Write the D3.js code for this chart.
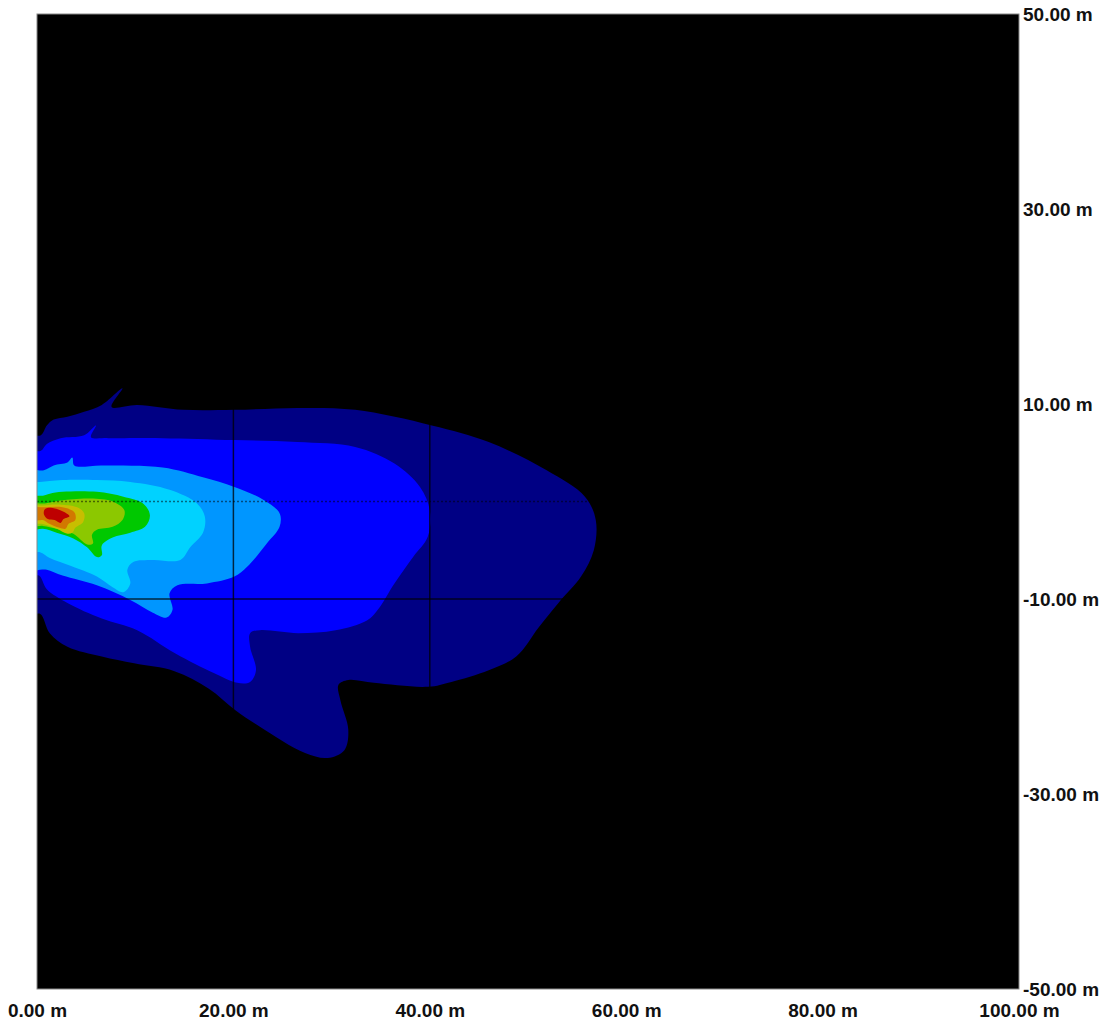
<!DOCTYPE html>
<html>
<head>
<meta charset="utf-8">
<script src="https://cdn.jsdelivr.net/npm/d3@7"></script>
<style>
  body { margin: 0; background: #fff; }
  svg text { font-family: "Liberation Sans", Arial, sans-serif; font-weight: bold; }
</style>
</head>
<body>
<span></span>
<script>
let width = 1101;
let height = 1025;
let margin = { top: 14, right: 82, bottom: 36, left: 37 };

// Tick values (metres)
let xTicks = [0, 20, 40, 60, 80, 100];
let yTicks = [50, 30, 10, -10, -30, -50];

// Isolux levels, outermost first: colour + outline [x m, y m]
let levelColors = ["#000084", "#0000ff", "#0096ff", "#00d2ff", "#00c800", "#8cc800", "#c8be00", "#d27800", "#be0000"];

let navy = [[-1, 6.6], [0.4, 6.8], [1.0, 7.8], [1.7, 8.4], [3.1, 8.7], [4.8, 9.2], [6.6, 9.9], [8.7, 11.6], [7.6, 9.7], [10.2, 9.9],
    [14.9, 9.4], [20.1, 9.4], [26.6, 9.6], [32.4, 9.4], [40.2, 7.8], [46.0, 6.1], [51.9, 3.2], [55.8, 0.5], [56.9, -1.9],
    [56.7, -5.0], [55.4, -7.7], [53.1, -10.4], [51.1, -12.9], [48.8, -15.9], [46.0, -17.3], [42.2, -18.5], [39.8, -19.0],
    [34.3, -18.6], [31.7, -18.3], [30.7, -18.8], [30.9, -20.4], [31.7, -23.4], [31.3, -25.5], [29.6, -26.3], [27.3, -25.8],
    [22.7, -23.1], [20.2, -21.4], [17.5, -19.2], [14.0, -17.4], [9.9, -16.6], [6.6, -15.9], [3.1, -14.9], [1.3, -13.5],
    [0.3, -11.5], [-1, -11.8]];

let blue = [[-1, 5.0], [0.4, 5.2], [1.0, 5.9], [2.4, 6.5], [4.8, 6.8], [6.0, 7.8], [5.5, 6.6], [7.2, 6.5], [8.9, 6.5],
    [12.8, 6.5], [20.1, 6.3], [26.5, 6.1], [32.4, 5.6], [36.4, 3.9], [39.0, 1.5], [40.0, -0.9], [39.8, -3.6], [38.3, -5.7],
    [36.4, -8.4], [34.7, -11.1], [33.6, -12.2], [30.4, -13.2], [26.6, -13.5], [22.7, -13.2], [21.7, -13.5], [21.7, -14.9],
    [22.3, -17.3], [21.7, -18.5], [20.4, -18.6], [18.0, -17.6], [14.1, -15.6], [10.2, -13.2], [6.6, -12.0], [3.1, -10.4],
    [1.0, -9.0], [0.2, -7.6], [-1, -7.6]];

let midBlue = [[-1, 3.1], [0.7, 3.2], [1.7, 3.7], [3.1, 4.0], [3.6, 4.5], [3.8, 3.7], [6.6, 3.7], [12.8, 3.5], [16.9, 2.5],
    [20.1, 1.5], [23.0, 0.2], [24.7, -1.2], [24.7, -2.6], [23.4, -4.3], [21.4, -6.7], [20.1, -7.7], [17.3, -8.4], [14.3, -8.6],
    [13.5, -9.4], [13.8, -11.1], [13.2, -11.9], [11.8, -11.4], [9.5, -10.1], [6.1, -8.6], [2.6, -7.6], [1.0, -7.0], [0.3, -7.0], [-1, -7.2]];

let cyan = [[-1, 1.8], [0.3, 2.0], [1.3, 2.1], [2.6, 2.2], [6.1, 2.2], [9.5, 2.0], [13.5, 1.2], [16.3, -0.2], [17.1, -1.6],
    [16.9, -3.2], [15.6, -4.7], [14.6, -6.0], [11.8, -6.0], [9.8, -6.2], [9.2, -7.0], [9.5, -8.4], [8.8, -9.3], [7.7, -8.8],
    [6.1, -7.7], [3.4, -6.6], [1.3, -5.8], [0.3, -5.2], [-1, -5.3]];

let green = [[-1, 0.4], [0.6, 0.6], [1.3, 0.8], [2.6, 1.0], [6.1, 1.0], [8.8, 0.5], [10.8, -0.2], [11.5, -1.4], [11.0, -2.6],
    [9.5, -3.2], [7.7, -3.7], [6.6, -4.5], [6.6, -5.5], [6.1, -5.7], [5.1, -4.7], [3.7, -3.8], [2.0, -3.2], [0.6, -2.8], [-1, -2.9]];

let yellowGreen = [[-1, -0.3], [0.8, -0.2], [2.4, 0.1], [5.4, 0.3], [7.7, 0.0], [8.9, -0.9], [8.7, -1.9], [7.7, -2.6],
    [6.1, -2.9], [5.6, -3.4], [5.7, -4.3], [5.1, -4.4], [3.7, -3.3], [2.0, -2.8], [0.6, -2.5], [-1, -2.5]];

let gold = [[-1, -0.5], [0.6, -0.4], [2.0, -0.3], [4.1, -0.6], [4.8, -1.2], [4.7, -2.1], [3.9, -2.7], [3.6, -3.2], [3.1, -3.3],
    [2.0, -2.8], [0.6, -2.3], [-1, -2.2]];

let orange = [[-1, -0.7], [0.8, -0.6], [2.6, -0.6], [3.8, -1.1], [3.9, -1.9], [3.2, -2.3], [2.9, -2.8], [2.3, -2.7],
    [1.1, -2.2], [0.6, -1.9], [-1, -2.0]];

let red = [[0.8, -0.8], [1.4, -0.65], [2.6, -1.0], [3.3, -1.5], [2.7, -1.8], [2.4, -2.2], [1.8, -1.9], [1.1, -1.8], [0.7, -1.3]];

let levels = [navy, blue, midBlue, cyan, green, yellowGreen, gold, orange, red];

// Grid lines of the calculation area
let gridX = [20, 40];
let gridYSolid = [-10];
let gridYDotted = [0];

let svg = d3.select("span")
    .append("svg")
    .attr("width", width)
    .attr("height", height);

let x = d3.scaleLinear().domain([0, 100]).range([margin.left, width - margin.right]);
let y = d3.scaleLinear().domain([-50, 50]).range([height - margin.bottom, margin.top]);

svg.append("clipPath").attr("id", "plotClip")
    .append("rect")
    .attr("x", x(0)).attr("y", y(50))
    .attr("width", x(100) - x(0)).attr("height", y(-50) - y(50));

// Black background of the plot
svg.append("rect")
    .attr("x", x(0)).attr("y", y(50))
    .attr("width", x(100) - x(0)).attr("height", y(-50) - y(50))
    .style("fill", "black");

let plot = svg.append("g").attr("clip-path", "url(#plotClip)");

let line = d3.line()
    .x(d => x(d[0]))
    .y(d => y(d[1]))
    .curve(d3.curveCatmullRomClosed.alpha(0.5));

levels.forEach(function (pts, i) {
    plot.append("path")
        .attr("d", line(pts))
        .style("fill", levelColors[i])
        .style("stroke", "none");
});

// Grid
gridX.forEach(function (v) {
    plot.append("line")
        .attr("x1", x(v)).attr("x2", x(v))
        .attr("y1", y(50)).attr("y2", y(-50))
        .style("stroke", "#000").style("stroke-opacity", 0.75).style("stroke-width", 1.5);
});
gridYSolid.forEach(function (v) {
    plot.append("line")
        .attr("x1", x(0)).attr("x2", x(100))
        .attr("y1", y(v)).attr("y2", y(v))
        .style("stroke", "#000").style("stroke-opacity", 0.75).style("stroke-width", 1.5);
});
gridYDotted.forEach(function (v) {
    plot.append("line")
        .attr("x1", x(0)).attr("x2", x(100))
        .attr("y1", y(v)).attr("y2", y(v))
        .style("stroke", "#000").style("stroke-opacity", 0.5).style("stroke-width", 1.5)
        .style("stroke-dasharray", "2,2");
});

// Border
svg.append("rect")
    .attr("x", x(0)).attr("y", y(50))
    .attr("width", x(100) - x(0)).attr("height", y(-50) - y(50))
    .style("fill", "none").style("stroke", "#888").style("stroke-width", 1);

let fmt = d => d.toFixed(2) + " m";

let xAxis = svg.append("g")
    .attr("transform", `translate(0,${y(-50)})`)
    .call(d3.axisBottom(x).tickValues(xTicks).tickFormat(fmt).tickSize(0).tickPadding(15));

let yAxis = svg.append("g")
    .attr("transform", `translate(${x(100)},0)`)
    .call(d3.axisRight(y).tickValues(yTicks).tickFormat(fmt).tickSize(0).tickPadding(4));

[xAxis, yAxis].forEach(function (a) {
    a.select(".domain").remove();
    a.selectAll("text")
        .style("font-size", "19px")
        .style("font-weight", "bold")
        .style("font-family", "'Liberation Sans', Arial, sans-serif")
        .style("fill", "#111");
});
</script>
</body>
</html>
